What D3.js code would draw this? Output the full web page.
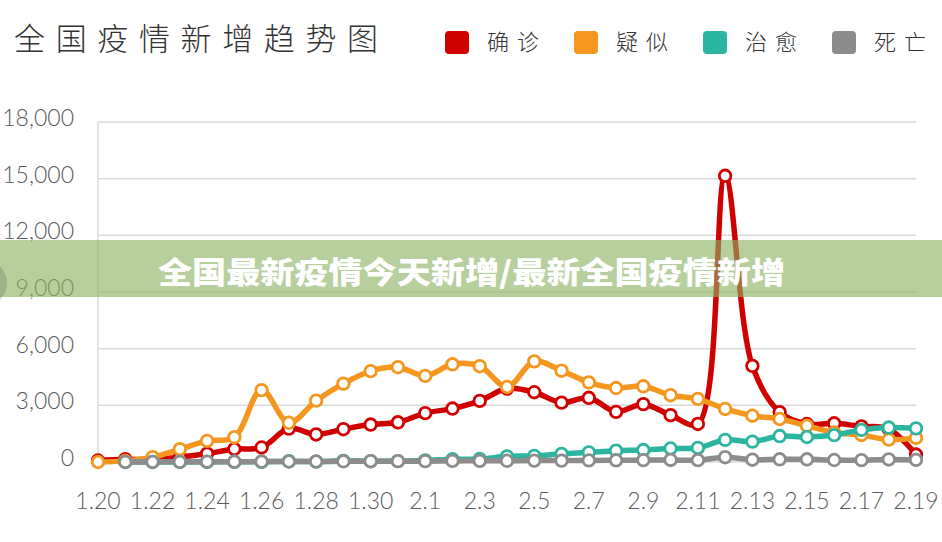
<!DOCTYPE html>
<html>
<head>
<meta charset="utf-8">
<script src="https://cdn.jsdelivr.net/npm/d3@7"></script>
<style>
  body { margin: 0; background: #fff; }
  svg { display: block; }
</style>
</head>
<body>
<svg id="chart"></svg>
<script>
// data
const dates = ["1.20","1.21","1.22","1.23","1.24","1.25","1.26","1.27","1.28","1.29","1.30","1.31",
  "2.1","2.2","2.3","2.4","2.5","2.6","2.7","2.8","2.9","2.10","2.11","2.12","2.13","2.14","2.15","2.16","2.17","2.18","2.19"];
const confirmed = [77,149,131,259,444,688,769,1771,1459,1737,1982,2102,
  2590,2829,3235,3887,3694,3143,3399,2656,3062,2478,2015,15152,5090,2641,2009,2048,1886,1749,394];
const suspected = [0,60,257,680,1118,1309,3806,2077,3248,4148,4812,5019,
  4562,5173,5072,3971,5328,4833,4214,3916,4008,3536,3342,2807,2450,2277,1918,1563,1432,1185,1277];
const cured = [null,3,0,6,3,11,9,43,21,60,43,47,
  85,147,157,300,320,430,510,600,632,716,744,1171,1081,1373,1323,1425,1701,1824,1779];
const deaths = [null,3,8,8,16,15,24,26,26,38,43,46,
  45,57,64,65,73,73,86,89,97,108,97,254,121,143,142,105,98,136,114];
const yTicks = [0,3000,6000,9000,12000,15000,18000];
const seriesNames = ["确诊","疑似","治愈","死亡"];
const seriesColors = ["#d10000","#f5961e","#2bb5a0","#8c8c8c"];
const title = "全国疫情新增趋势图";
const banner = "全国最新疫情今天新增/最新全国疫情新增";

const w = 942, h = 542;
const margin = { top: 122, right: 26, bottom: 80, left: 98 };

const svg = d3.select("#chart").attr("width", w).attr("height", h);

const x = d3.scalePoint().domain(dates).range([margin.left, w - margin.right]);
const y = d3.scaleLinear().domain([0, 18000]).range([h - margin.bottom, margin.top]);

const tickFont = "Lato, 'Open Sans', sans-serif";

// grid
svg.append("g")
  .selectAll("line")
  .data(yTicks)
  .join("line")
  .attr("x1", margin.left).attr("x2", w - margin.right)
  .attr("y1", d => y(d)).attr("y2", d => y(d))
  .attr("stroke", "#d9d9d9").attr("stroke-width", 1.5);
svg.append("line")
  .attr("x1", margin.left).attr("x2", margin.left)
  .attr("y1", y(18000)).attr("y2", y(0))
  .attr("stroke", "#dcdcdc").attr("stroke-width", 1.5);

// y labels
svg.append("g")
  .selectAll("text")
  .data(yTicks)
  .join("text")
  .attr("x", 74)
  .attr("y", d => y(d) - 4)
  .attr("dy", "0.35em")
  .attr("text-anchor", "end")
  .attr("font-family", tickFont)
  .attr("font-weight", 300)
  .attr("font-size", 23)
  .attr("fill", "#5a5a5a")
  .text(d => d3.format(",")(d));

// x labels every other day
svg.append("g")
  .selectAll("text")
  .data(dates.filter((d, i) => i % 2 === 0))
  .join("text")
  .attr("x", d => x(d))
  .attr("y", 509)
  .attr("text-anchor", "middle")
  .attr("font-family", tickFont)
  .attr("font-weight", 300)
  .attr("font-size", 23)
  .attr("fill", "#5a5a5a")
  .text(d => d);

// lines
const allSeries = [confirmed, suspected, cured, deaths];
const line = d3.line()
  .defined(d => d.v != null)
  .x(d => x(d.date))
  .y(d => y(d.v))
  .curve(d3.curveCatmullRom.alpha(0.5));

allSeries.forEach((vals, si) => {
  const pts = dates.map((date, i) => ({ date, v: vals[i] }));
  const g = svg.append("g");
  g.append("path")
    .datum(pts)
    .attr("d", line)
    .attr("fill", "none")
    .attr("stroke", seriesColors[si])
    .attr("stroke-width", 5.5)
    .attr("stroke-linejoin", "round")
    .attr("stroke-linecap", "round");
  g.selectAll("circle")
    .data(pts.filter(d => d.v != null))
    .join("circle")
    .attr("cx", d => x(d.date))
    .attr("cy", d => y(d.v))
    .attr("r", 5.8)
    .attr("fill", "#fff")
    .attr("stroke", seriesColors[si])
    .attr("stroke-width", 2.8);
});

// title
svg.append("text")
  .attr("x", 14).attr("y", 50)
  .attr("font-family", "'Noto Sans CJK SC', sans-serif")
  .attr("font-weight", 300)
  .attr("font-size", 31)
  .attr("fill", "#333")
  .attr("textLength", 364)
  .attr("lengthAdjust", "spacing")
  .text(title);

// legend
const legendX = [445, 574, 703, 832];
const legend = svg.append("g")
  .selectAll("g")
  .data(seriesNames)
  .join("g")
  .attr("transform", (d, i) => `translate(${legendX[i]},31)`);
legend.append("rect")
  .attr("width", 24).attr("height", 23).attr("rx", 4)
  .attr("fill", (d, i) => seriesColors[i]);
legend.append("text")
  .attr("x", 42).attr("y", 19)
  .attr("font-family", "'Noto Sans CJK SC', sans-serif")
  .attr("font-weight", 300)
  .attr("font-size", 22)
  .attr("fill", "#333")
  .attr("textLength", 52)
  .attr("lengthAdjust", "spacing")
  .text(d => d);

// overlay banner
svg.append("rect")
  .attr("x", 0).attr("y", 240).attr("width", w).attr("height", 57)
  .attr("fill", "rgb(139,177,95)").attr("fill-opacity", 0.62);
svg.append("circle")
  .attr("cx", -16).attr("cy", 283).attr("r", 23)
  .attr("fill", "#6e7a62").attr("fill-opacity", 0.35);
svg.append("text")
  .attr("x", 158).attr("y", 283)
  .attr("font-family", "'Noto Sans CJK SC', sans-serif")
  .attr("font-weight", 900)
  .attr("font-size", 30)
  .attr("fill", "#fff")
  .attr("textLength", 627)
  .attr("lengthAdjust", "spacingAndGlyphs")
  .text(banner);
</script>
</body>
</html>
